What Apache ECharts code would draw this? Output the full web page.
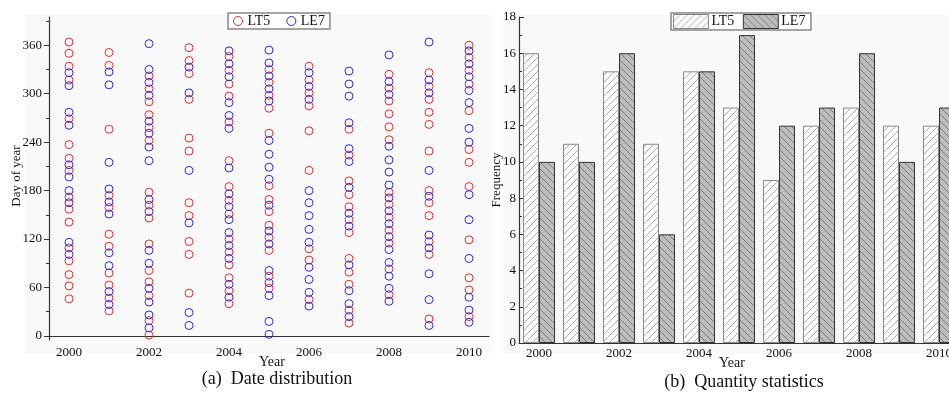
<!DOCTYPE html>
<html>
<head>
<meta charset="utf-8">
<script src="https://cdn.jsdelivr.net/npm/echarts@6/dist/echarts.min.js"></script>
<style>
  html, body { margin: 0; padding: 0; background: #fff; overflow: hidden; }
  /* the right panel runs past the picture edge, so the canvas is a little wider than the window */
  #chart { width: 962px; height: 394px; }
</style>
</head>
<body>
<div id="chart"></div>
<script>
// years shared by both panels
const years = ['2000', '2001', '2002', '2003', '2004', '2005', '2006', '2007', '2008', '2009', '2010'];

// (a) acquisition day of year per image, one list per year
const lt5Days = [
  [364, 350, 334, 317, 269, 237, 220, 205, 172, 157, 141, 109, 93, 76, 62, 46],
  [351, 335, 256, 174, 159, 126, 111, 78, 63, 47, 31],
  [322, 306, 290, 274, 258, 242, 178, 162, 146, 114, 81, 67, 50, 19, 1],
  [357, 341, 325, 293, 245, 229, 165, 149, 117, 101, 53],
  [346, 329, 312, 297, 265, 217, 185, 168, 151, 120, 104, 88, 72, 56, 40],
  [330, 314, 298, 282, 251, 186, 169, 154, 137, 122, 106, 74, 59],
  [334, 317, 301, 285, 254, 205, 108, 94, 45],
  [256, 224, 192, 175, 160, 144, 128, 96, 79, 64, 32, 16],
  [324, 307, 291, 275, 259, 243, 178, 163, 147, 131, 115, 83, 51],
  [326, 309, 293, 277, 262, 229, 180, 165, 149, 117, 101, 21],
  [360, 345, 329, 312, 279, 231, 215, 185, 119, 72, 57, 24]
];
const le7Days = [
  [326, 310, 277, 261, 212, 197, 180, 165, 116, 101],
  [327, 311, 215, 182, 166, 151, 103, 87, 55, 39],
  [362, 330, 314, 298, 266, 251, 234, 217, 169, 154, 106, 90, 59, 42, 26, 10],
  [333, 301, 205, 140, 29, 13],
  [353, 337, 321, 289, 273, 257, 208, 176, 160, 144, 128, 112, 96, 64, 48],
  [354, 338, 322, 306, 291, 242, 225, 209, 194, 162, 130, 114, 81, 66, 50, 18, 2],
  [326, 309, 293, 180, 165, 149, 132, 116, 85, 70, 54, 37],
  [328, 312, 297, 264, 232, 216, 184, 152, 136, 88, 56, 40, 24],
  [348, 315, 299, 235, 218, 203, 187, 171, 155, 139, 123, 107, 91, 74, 59, 43],
  [364, 317, 301, 205, 173, 125, 109, 77, 45, 13],
  [353, 337, 321, 304, 289, 257, 240, 175, 144, 96, 48, 32, 17]
];

// (b) image counts per year
const lt5Count = [16, 11, 15, 11, 15, 13, 9, 12, 13, 12, 12];
const le7Count = [10, 10, 16, 6, 15, 17, 12, 13, 16, 10, 13];

// tick labels
const dayLabels = [0, 60, 120, 180, 240, 300, 360];
const dayMinorTicks = [30, 90, 150, 210, 270, 330, 390];

const FONT = 'Liberation Serif';
const RED = '#f02a2a';
const BLUE = '#2a2af0';

function hatch(bg, line, forward) {
  const c = document.createElement('canvas');
  c.width = 7; c.height = 7;
  const ctx = c.getContext('2d');
  ctx.fillStyle = bg;
  ctx.fillRect(0, 0, 7, 7);
  ctx.strokeStyle = line;
  ctx.lineWidth = 0.8;
  ctx.beginPath();
  if (forward) {
    ctx.moveTo(-1, 8); ctx.lineTo(8, -1);
    ctx.moveTo(-1, 1); ctx.lineTo(1, -1);
    ctx.moveTo(6, 8); ctx.lineTo(8, 6);
  } else {
    ctx.moveTo(-1, -1); ctx.lineTo(8, 8);
    ctx.moveTo(-1, 6); ctx.lineTo(1, 8);
    ctx.moveTo(6, -1); ctx.lineTo(8, 1);
  }
  ctx.stroke();
  return { image: c, repeat: 'repeat' };
}

const lt5Fill = hatch('#fbfbfb', '#a0a0a0', true);
const le7Fill = hatch('#bdbdbd', '#6a6a6a', false);

const toPoints = (lists) => lists.flatMap((days, i) => days.map(d => [i, d]));

const chart = echarts.init(document.getElementById('chart'));

const axisLine = { lineStyle: { color: '#333', width: 1.2 } };
const label = { fontFamily: FONT, fontSize: 13, color: '#111' };

const option = {
  animation: false,
  textStyle: { fontFamily: FONT },
  graphic: [
    { type: 'rect', z: -10, shape: { x: 25, y: 15, width: 466, height: 338 }, style: { fill: '#f9f9f9' } },
    { type: 'rect', z: -10, shape: { x: 503, y: 15, width: 460, height: 338 }, style: { fill: '#f9f9f9' } },
    { type: 'text', x: 17, y: 176, rotation: Math.PI / 2,
      style: { text: 'Day of year', font: '13px ' + FONT, fill: '#111', align: 'center', verticalAlign: 'middle' } },
    { type: 'text', x: 272, y: 362,
      style: { text: 'Year', font: '14px ' + FONT, fill: '#111', align: 'center', verticalAlign: 'middle' } },
    { type: 'text', x: 277, y: 379,
      style: { text: '(a)  Date distribution', font: '18px ' + FONT, fill: '#111', align: 'center', verticalAlign: 'middle' } },
    { type: 'text', x: 497, y: 180, rotation: Math.PI / 2,
      style: { text: 'Frequency', font: '13px ' + FONT, fill: '#111', align: 'center', verticalAlign: 'middle' } },
    { type: 'text', x: 732, y: 363,
      style: { text: 'Year', font: '14px ' + FONT, fill: '#111', align: 'center', verticalAlign: 'middle' } },
    { type: 'text', x: 744, y: 382,
      style: { text: '(b)  Quantity statistics', font: '18px ' + FONT, fill: '#111', align: 'center', verticalAlign: 'middle' } }
  ],
  legend: [
    {
      left: 228, top: 13, orient: 'horizontal',
      padding: [1, 5], itemGap: 16, itemWidth: 9, itemHeight: 9,
      backgroundColor: '#fff', borderColor: '#888', borderWidth: 1.5, borderRadius: 0,
      textStyle: { fontFamily: FONT, fontSize: 14, color: '#111', padding: [1, 0, 0, 0] },
      data: [
        { name: 'LT5', icon: 'circle', itemStyle: { color: 'transparent', borderColor: RED, borderWidth: 1 } },
        { name: 'LE7', icon: 'circle', itemStyle: { color: 'transparent', borderColor: BLUE, borderWidth: 1 } }
      ]
    },
    {
      left: 671, top: 13, orient: 'horizontal',
      padding: [1, 2], itemGap: 5, itemWidth: 35, itemHeight: 14,
      backgroundColor: '#fff', borderColor: '#888', borderWidth: 1.5, borderRadius: 0,
      textStyle: { fontFamily: FONT, fontSize: 14, color: '#111', padding: [1, 0, 0, -2] },
      data: [
        { name: 'LT5 ', icon: 'rect', itemStyle: { color: lt5Fill, borderColor: '#888', borderWidth: 1 } },
        { name: 'LE7 ', icon: 'rect', itemStyle: { color: le7Fill, borderColor: '#333', borderWidth: 1 } }
      ]
    }
  ],
  grid: [
    { left: 49, top: 17, width: 440, bottom: 54 },
    { left: 519, top: 17, width: 440, bottom: 51 }
  ],
  xAxis: [
    {
      type: 'category', gridIndex: 0, data: years, boundaryGap: true,
      axisLine: axisLine,
      axisTick: { alignWithLabel: true, interval: 0, inside: true, length: 4, lineStyle: { color: '#333' } },
      axisLabel: Object.assign({ interval: 1, fontSize: 14, margin: 6 }, label)
    },
    {
      type: 'category', gridIndex: 1, data: years, boundaryGap: true,
      axisLine: axisLine,
      axisTick: { show: false },
      axisLabel: Object.assign({ interval: 1, fontSize: 14, margin: 4 }, label)
    }
  ],
  yAxis: [
    {
      type: 'value', gridIndex: 0, min: -5, max: 395,
      axisLine: Object.assign({ show: true }, axisLine),
      axisTick: { show: true, customValues: dayLabels, length: 5, lineStyle: { color: '#333' } },
      axisLabel: Object.assign({ customValues: dayLabels, margin: 7 }, label),
      splitLine: { show: false }
    },
    {
      type: 'value', gridIndex: 0, min: -5, max: 395, position: 'left', offset: 0,
      axisLine: { show: false },
      axisTick: { show: true, customValues: dayMinorTicks, length: 3, lineStyle: { color: '#333' } },
      axisLabel: { show: false },
      splitLine: { show: false }
    },
    {
      type: 'value', gridIndex: 1, min: 0, max: 18, interval: 2,
      axisLine: Object.assign({ show: true }, axisLine),
      axisTick: { show: true, inside: true, length: 5, lineStyle: { color: '#333' } },
      minorTick: { show: true, splitNumber: 2, length: 3, lineStyle: { color: '#333' } },
      axisLabel: Object.assign({ margin: 3, fontSize: 12 }, label),
      splitLine: { show: false }
    }
  ],
  series: [
    {
      name: 'LT5', type: 'scatter', xAxisIndex: 0, yAxisIndex: 0,
      symbol: 'circle', symbolSize: 8,
      itemStyle: { color: 'transparent', borderColor: RED, borderWidth: 1, opacity: 1 },
      data: toPoints(lt5Days)
    },
    {
      name: 'LE7', type: 'scatter', xAxisIndex: 0, yAxisIndex: 0,
      symbol: 'circle', symbolSize: 8,
      itemStyle: { color: 'transparent', borderColor: BLUE, borderWidth: 1, opacity: 1 },
      data: toPoints(le7Days)
    },
    {
      name: 'LT5 ', type: 'bar', xAxisIndex: 1, yAxisIndex: 2,
      barWidth: 16, barGap: '0%',
      itemStyle: { color: lt5Fill, borderColor: '#8a8a8a', borderWidth: 1 },
      data: lt5Count
    },
    {
      name: 'LE7 ', type: 'bar', xAxisIndex: 1, yAxisIndex: 2,
      barWidth: 16, barGap: '0%',
      itemStyle: { color: le7Fill, borderColor: '#333', borderWidth: 1 },
      data: le7Count
    }
  ]
};

chart.setOption(option);
</script>
</body>
</html>
